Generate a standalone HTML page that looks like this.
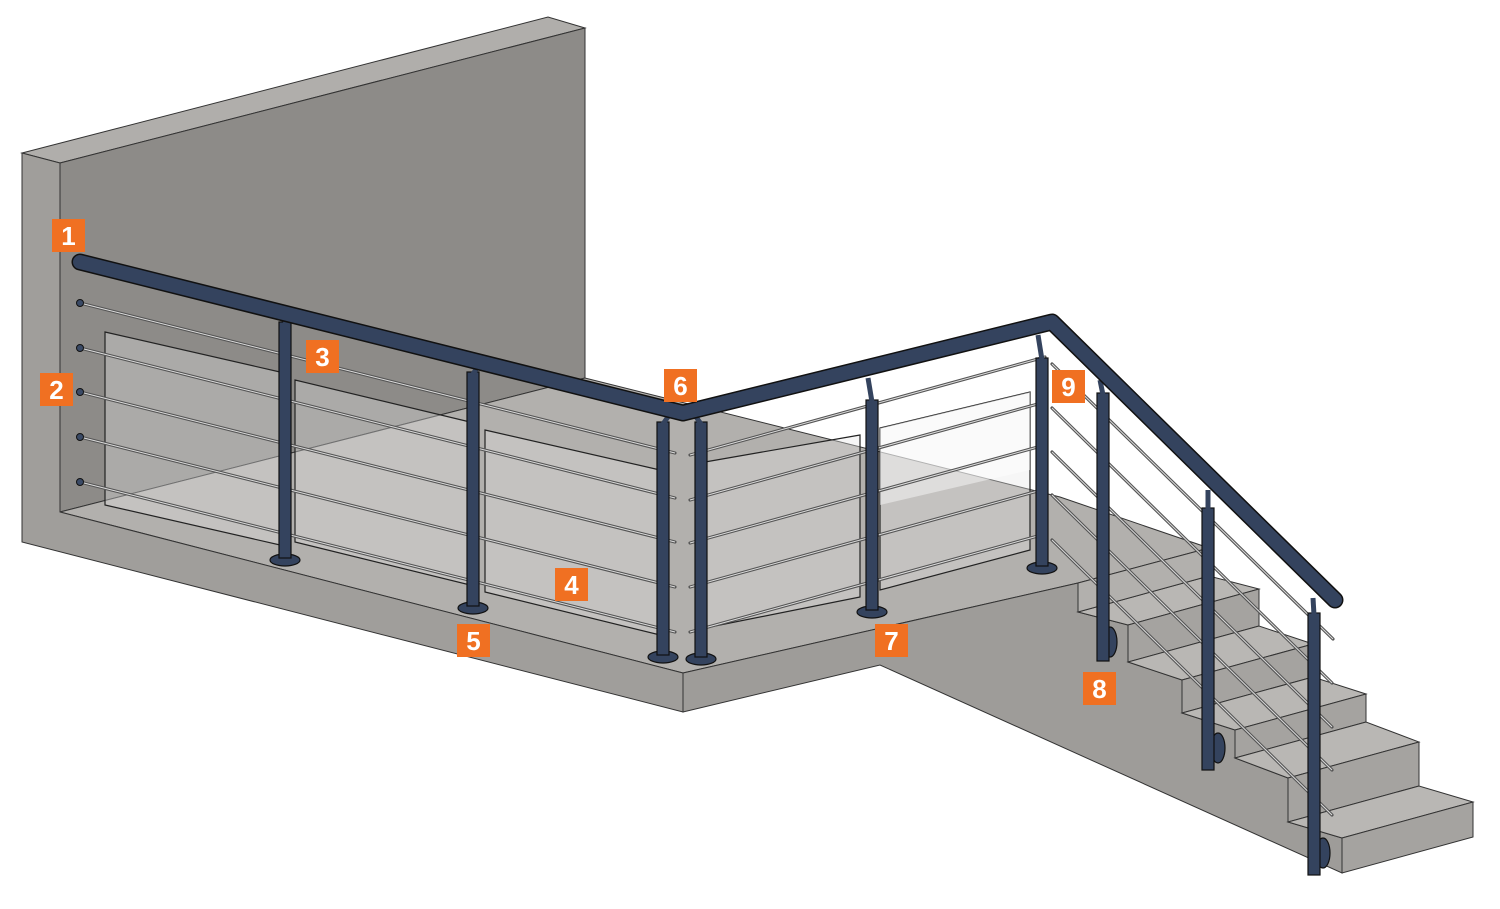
<!DOCTYPE html>
<html><head><meta charset="utf-8"><style>
html,body{margin:0;padding:0;background:#fff;}
svg{display:block}
.lbl rect{fill:#f07022}
.lbl text{fill:#fff;font-family:"Liberation Sans",sans-serif;font-weight:bold;font-size:26px;text-anchor:middle}
</style></head><body>
<svg width="1500" height="909" viewBox="0 0 1500 909" xmlns="http://www.w3.org/2000/svg">
<polygon points="22,153 548,17 585,28 60,163" fill="#b0aeab" stroke="#333" stroke-width="1"/>
<polygon points="60,163 585,28 585,378 60,512" fill="#8d8b88" stroke="#333" stroke-width="1"/>
<polygon points="60,512 585,378 1060,497 1209,548 1078,583 683,673" fill="#b2b0ad" stroke="#333" stroke-width="1"/>
<polygon points="22,153 60,163 60,512 683,673 683,712 22,542" fill="#a09e9b" stroke="#333" stroke-width="1"/>
<polygon points="683,673 1078,583 1078,612 1128,625 1128,662 1182,680 1182,713 1235,730 1235,758 1288,778 1288,822 1342,838 1342,873 880,665 683,712" fill="#9e9c99" stroke="#333" stroke-width="1"/>
<g stroke="#333" stroke-width="1">
<polygon points="1078,612 1128,625 1259,589 1209,576" fill="#b9b7b4"/>
<polygon points="1128,625 1128,662 1259,626 1259,589" fill="#a5a3a0"/>
<polygon points="1128,662 1182,680 1313,644 1259,626" fill="#b9b7b4"/>
<polygon points="1182,680 1182,713 1313,677 1313,644" fill="#a5a3a0"/>
<polygon points="1182,713 1235,730 1366,694 1313,677" fill="#b9b7b4"/>
<polygon points="1235,730 1235,758 1366,722 1366,694" fill="#a5a3a0"/>
<polygon points="1235,758 1288,778 1419,742 1366,722" fill="#b9b7b4"/>
<polygon points="1288,778 1288,822 1419,786 1419,742" fill="#a5a3a0"/>
<polygon points="1288,822 1342,838 1473,802 1419,786" fill="#b9b7b4"/>
<polygon points="1342,838 1342,873 1473,837 1473,802" fill="#a5a3a0"/>
<polygon points="1209,548 1209,576 1078,612 1078,583" fill="#b2b0ad"/>
</g>
<g fill="rgba(230,230,230,0.35)" stroke="#222" stroke-width="1.2">
<polygon points="105,332 280,372 280,545 105,505"/>
<polygon points="295,380 470,422 470,585 295,542"/>
<polygon points="485,430 660,470 660,635 485,592"/>
<polygon points="705,462 860,435 860,597 705,628"/>
<polygon points="880,428 1030,392 1030,550 880,590"/>
</g>
<polygon points="880,428 1030,392 1030,470 880,505" fill="rgba(255,255,255,0.45)"/>
<g stroke="#555" stroke-width="3.2" stroke-linecap="round" fill="none">
<line x1="80" y1="303" x2="675" y2="453"/><line x1="80" y1="348" x2="675" y2="498"/>
<line x1="80" y1="392" x2="675" y2="542"/><line x1="80" y1="437" x2="675" y2="587"/>
<line x1="80" y1="482" x2="675" y2="632"/>
<line x1="690" y1="455" x2="1045" y2="357"/><line x1="690" y1="500" x2="1045" y2="402"/>
<line x1="690" y1="543" x2="1045" y2="445"/><line x1="690" y1="587" x2="1045" y2="489"/>
<line x1="690" y1="632" x2="1045" y2="534"/>
<line x1="1052" y1="364" x2="1333" y2="639"/><line x1="1052" y1="408" x2="1332" y2="683"/>
<line x1="1052" y1="452" x2="1332" y2="727"/><line x1="1052" y1="495" x2="1332" y2="770"/>
<line x1="1052" y1="540" x2="1332" y2="815"/>
</g>
<g stroke="#ddd" stroke-width="1" fill="none">
<line x1="80" y1="303" x2="675" y2="453"/><line x1="80" y1="348" x2="675" y2="498"/>
<line x1="80" y1="392" x2="675" y2="542"/><line x1="80" y1="437" x2="675" y2="587"/>
<line x1="80" y1="482" x2="675" y2="632"/>
<line x1="690" y1="455" x2="1045" y2="357"/><line x1="690" y1="500" x2="1045" y2="402"/>
<line x1="690" y1="543" x2="1045" y2="445"/><line x1="690" y1="587" x2="1045" y2="489"/>
<line x1="690" y1="632" x2="1045" y2="534"/>
<line x1="1052" y1="364" x2="1333" y2="639"/><line x1="1052" y1="408" x2="1332" y2="683"/>
<line x1="1052" y1="452" x2="1332" y2="727"/><line x1="1052" y1="495" x2="1332" y2="770"/>
<line x1="1052" y1="540" x2="1332" y2="815"/>
</g>
<g fill="#3a4a66" stroke="#111" stroke-width="1">
<circle cx="80" cy="303" r="3.5"/><circle cx="80" cy="348" r="3.5"/><circle cx="80" cy="392" r="3.5"/><circle cx="80" cy="437" r="3.5"/><circle cx="80" cy="482" r="3.5"/>
</g>
<g fill="#34435e" stroke="#111" stroke-width="1.2">
<ellipse cx="285" cy="560" rx="15" ry="6"/><rect x="279" y="322" width="12" height="236"/>
<ellipse cx="473" cy="608" rx="15" ry="6"/><rect x="467" y="372" width="12" height="234"/>
<ellipse cx="663" cy="657" rx="15" ry="6"/><rect x="657" y="422" width="12" height="233"/>
<ellipse cx="701" cy="659" rx="15" ry="6"/><rect x="695" y="422" width="12" height="235"/>
<ellipse cx="872" cy="612" rx="15" ry="6"/><rect x="866" y="400" width="12" height="210"/>
<ellipse cx="1042" cy="568" rx="15" ry="6"/><rect x="1036" y="358" width="12" height="208"/>
<ellipse cx="1110" cy="642" rx="7" ry="15"/><rect x="1097" y="393" width="12" height="268"/>
<ellipse cx="1218" cy="748" rx="7" ry="15"/><rect x="1202" y="508" width="12" height="262"/>
<ellipse cx="1323" cy="853" rx="7" ry="15"/><rect x="1308" y="613" width="12" height="262"/>
</g>
<g stroke="#34435e" stroke-width="5" fill="none">
<line x1="289" y1="316" x2="285" y2="324"/><line x1="477" y1="368" x2="473" y2="374"/>
<line x1="670" y1="414" x2="663" y2="424"/><line x1="694" y1="414" x2="701" y2="424"/>
<line x1="868" y1="378" x2="872" y2="402"/><line x1="1038" y1="335" x2="1042" y2="360"/>
<line x1="1100" y1="380" x2="1103" y2="395"/><line x1="1208" y1="490" x2="1208" y2="510"/>
<line x1="1313" y1="598" x2="1314" y2="615"/>
</g>
<polyline points="80,262 683,413 1052,322 1335,600" fill="none" stroke="#111" stroke-width="17" stroke-linejoin="round" stroke-linecap="round"/>
<polyline points="80,262 683,413 1052,322 1335,600" fill="none" stroke="#34435e" stroke-width="14" stroke-linejoin="round" stroke-linecap="round"/>
<g class="lbl">
<rect x="52" y="219" width="33" height="33"/><text x="68.5" y="245">1</text>
<rect x="40" y="373" width="33" height="33"/><text x="56.5" y="399">2</text>
<rect x="306" y="340" width="33" height="33"/><text x="322.5" y="366">3</text>
<rect x="555" y="568" width="33" height="33"/><text x="571.5" y="594">4</text>
<rect x="457" y="624" width="33" height="33"/><text x="473.5" y="650">5</text>
<rect x="664" y="369" width="33" height="33"/><text x="680.5" y="395">6</text>
<rect x="875" y="624" width="33" height="33"/><text x="891.5" y="650">7</text>
<rect x="1083" y="672" width="33" height="33"/><text x="1099.5" y="698">8</text>
<rect x="1052" y="370" width="33" height="33"/><text x="1068.5" y="396">9</text>
</g>
</svg>
</body></html>
